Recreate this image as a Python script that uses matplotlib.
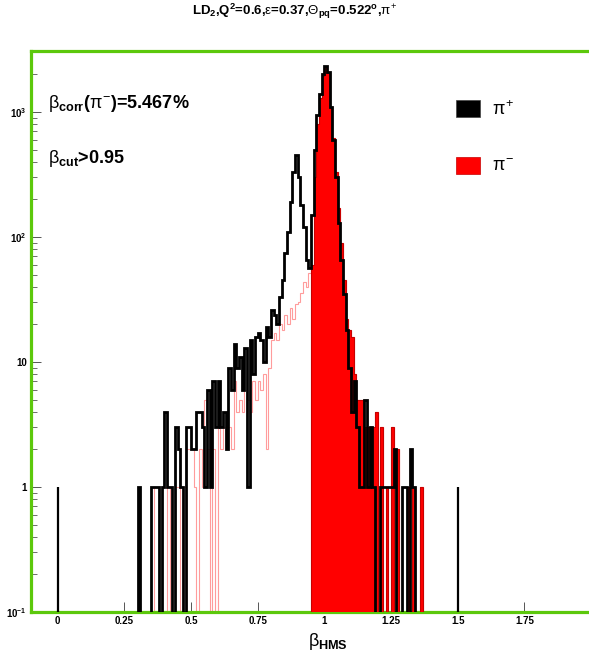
import numpy as np
import matplotlib
matplotlib.use("Agg")
import matplotlib.pyplot as plt
from matplotlib.patches import Patch

plt.rcParams['font.family'] = ['Liberation Sans', 'DejaVu Sans']
plt.rcParams['mathtext.fontset'] = 'custom'
plt.rcParams['mathtext.rm'] = 'Liberation Sans'
plt.rcParams['mathtext.it'] = 'Liberation Sans'
plt.rcParams['mathtext.bf'] = 'Liberation Sans:bold'

# histogram binning (beta_HMS)
bin_lo = 0.30
bin_w = 0.01

# pi+ counts, bins from 0.30 upward
pip_counts = [
    1, 0, 0, 0, 0, 1, 1, 1, 0, 1,
    4, 1, 1, 0, 3, 2, 1, 0, 3, 3,
    2, 2, 4, 4, 3, 1, 6, 1, 7, 3,
    7, 3, 4, 2, 9, 6, 14, 9, 11, 6,
    13, 1, 15, 8, 16, 17, 15, 10, 19, 16,
    26, 24, 20, 33, 45, 75, 110, 190, 330, 455,
    300, 180, 120, 65, 57, 150, 500, 950, 1400, 2000,
    2340, 2100, 1100, 600, 300, 130, 65, 35, 18, 9,
    4, 7, 3, 1, 1, 5, 1, 3, 1, 0,
    0, 1, 1, 1, 1, 1, 2, 0, 0, 1,
    1, 0, 2, 1, 0, 0, 0, 0, 0, 0,
]

# pi- counts, same bins
pim_counts = [
    0, 0, 0, 0, 0, 0, 1, 1, 0, 1,
    1, 0, 1, 0, 1, 1, 0, 1, 2, 2,
    2, 1, 0, 2, 1, 5, 2, 0, 2, 0,
    3, 2, 3, 2, 3, 2, 7, 4, 5, 4,
    6, 5, 4, 7, 5, 7, 6, 8, 2, 9,
    15, 17, 15, 20, 18, 24, 20, 27, 22, 29,
    30, 36, 44, 40, 52, 60, 300, 800, 1300, 1950,
    2300, 2050, 1100, 620, 330, 170, 90, 45, 22, 18,
    16, 8, 5, 5, 5, 3, 3, 3, 3, 4,
    0, 3, 0, 1, 0, 3, 0, 2, 0, 0,
    0, 1, 0, 1, 0, 0, 1, 0, 0, 0,
]

# single entries drawn as thin lines
spike_x = [0.0, 1.5]
spike_counts = [1, 1]

beta_cut = 0.95
corr_text = "5.467%"

ytick_vals = [0.1, 1, 10, 100, 1000]
ytick_labels = [r"10$^{\mathbf{-1}}$", "1", "10", r"10$^{\mathbf{2}}$", r"10$^{\mathbf{3}}$"]
xtick_vals = [0, 0.25, 0.5, 0.75, 1, 1.25, 1.5, 1.75]
xtick_labels = ["0", "0.25", "0.5", "0.75", "1", "1.25", "1.5", "1.75"]

pip = np.array(pip_counts, dtype=float)
pim = np.array(pim_counts, dtype=float)
edges = np.round(bin_lo + bin_w * np.arange(len(pip) + 1), 4)
i_cut = int(np.argmin(np.abs(edges - beta_cut)))

fig = plt.figure(figsize=(5.89, 6.56), dpi=100)
ax = fig.add_axes([31 / 589, 44 / 656, 560 / 589, 561 / 656])
ax.set_yscale('log')
ax.set_xlim(-0.1, 2.0)
ax.set_ylim(0.1, 3080)

green = '#5cc80c'

# full pi- distribution, thin light line
ax.stairs(pim, edges, baseline=0.1, color='#ff9c9c', lw=0.8, zorder=2)
# pi- after beta cut, filled
ax.stairs(pim[i_cut:], edges[i_cut:], baseline=0.1, fill=True, color='#ff0000', zorder=3)
ax.stairs(pim[i_cut:], edges[i_cut:], baseline=0.1, color='#c80000', lw=0.8, zorder=3)
# pi+
ax.stairs(pip, edges, baseline=0.1, color='black', lw=2.0, zorder=4)
ax.vlines(spike_x, 0.1, spike_counts, color='black', lw=1.6, zorder=4)

ax.set_xticks(xtick_vals)
ax.set_xticklabels(xtick_labels, fontsize=7, fontweight='bold')
ax.set_yticks(ytick_vals)
ax.set_yticklabels(ytick_labels, fontsize=7, fontweight='bold')
ax.tick_params(axis='both', which='major', direction='in', length=7, width=0.7,
               color='#555555', pad=3)
ax.tick_params(axis='y', which='minor', direction='in', length=4, width=0.6, color='#555555')
ax.tick_params(axis='x', which='minor', bottom=False)

for s in ax.spines.values():
    s.set_color(green)
    s.set_linewidth(2.3)

ax.set_xlabel(r"$\beta_{\mathbf{HMS}}$", fontsize=13)
ax.xaxis.set_label_coords(0.53, -0.034)

fig.text(0.5, 0.982,
         r"LD$_{\mathbf{2}}$,Q$^{\mathbf{2}}$=0.6,$\varepsilon$=0.37,$\Theta_{\mathbf{pq}}$=0.522$^{\mathbf{o}}$,$\pi^{+}$",
         ha='center', va='center', fontsize=9.5, fontweight='bold')

ax.text(0.03, 0.907, r"$\beta_{\mathbf{corr}}$($\pi^{-}$)=" + corr_text,
        transform=ax.transAxes, fontsize=13, fontweight='bold', va='center')
ax.text(0.03, 0.809, r"$\beta_{\mathbf{cut}}$>" + str(beta_cut),
        transform=ax.transAxes, fontsize=13, fontweight='bold', va='center')

handles = [Patch(facecolor='black', edgecolor='#444444', lw=0.5),
           Patch(facecolor='#ff0000', edgecolor='#c80000', lw=0.5)]
ax.legend(handles, [r"$\pi^{+}$", r"$\pi^{-}$"], loc='upper left',
          bbox_to_anchor=(0.73, 0.942), frameon=False, fontsize=13,
          handlelength=1.3, handleheight=1.1, labelspacing=2.1, handletextpad=0.7)

fig.savefig("out.png", dpi=100)
